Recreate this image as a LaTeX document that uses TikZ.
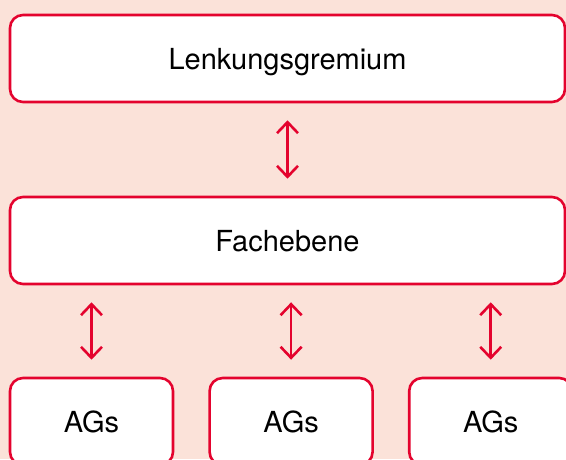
\documentclass[tikz,border=0pt]{standalone}
\usepackage{fontspec}
\setmainfont{TeX Gyre Heros}
\usetikzlibrary{positioning, calc, arrows.meta}
\definecolor{bgrose}{HTML}{FBE2D9}
\definecolor{linered}{HTML}{E4032E}
\tikzset{box/.style={draw=linered, fill=white, line width=2.6pt, rounded corners=13pt, minimum height=87pt, inner sep=0pt, text height=21pt, text depth=0pt, font=\fontsize{29}{34}\selectfont}}
\tikzset{link/.style={draw=linered, line width=2.6pt, shorten <=17pt, shorten >=17pt, {Straight Barb[length=11pt,width=21pt,line width=2.6pt]}-{Straight Barb[length=11pt,width=21pt,line width=2.6pt]}}}

\begin{document}
\begin{tikzpicture}[x=1pt, y=-1pt]

      % BACKGROUND

      \clip (0,0) rectangle (566,459);
      \fill[bgrose] (0,0) rectangle (566,459);

      % BOXES

      \node[box, minimum width=555pt] (gremium) at (287.5,58.5) {Lenkungsgremium};
      \node[box, minimum width=555pt] (fach) at (287.5,240.5) {Fachebene};
      \node[box, minimum width=163pt] (ag1) at (91.5,421.5) {AGs};
      \node[box, minimum width=163pt, right=34pt of ag1] (ag2) {AGs};
      \node[box, minimum width=163pt, right=34pt of ag2] (ag3) {AGs};

      % ARCS

      \draw[link] (gremium) -- (fach);
      \draw[link] (ag1 |- fach.south) -- (ag1.north);
      \draw[link] (ag2 |- fach.south) -- (ag2.north);
      \draw[link] (ag3 |- fach.south) -- (ag3.north);

\end{tikzpicture}
\end{document}
